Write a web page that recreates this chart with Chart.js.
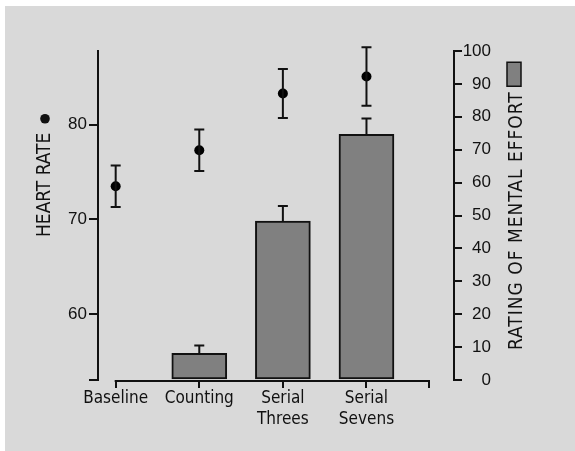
<!DOCTYPE html>
<html>
<head>
<meta charset="utf-8">
<script src="https://cdn.jsdelivr.net/npm/chart.js@4.4.1/dist/chart.umd.min.js"></script>
<style>
  html, body { margin: 0; padding: 0; background: #fff; }
  canvas { display: block; }
</style>
</head>
<body>
<canvas id="chart" width="575" height="451"></canvas>
<script>
// data
const categories = [['Baseline'], ['Counting'], ['Serial', 'Threes'], ['Serial', 'Sevens']];
const heartRate = [73.5, 77.3, 83.3, 85.1];
const heartRateErr = [2.2, 2.2, 2.6, 3.1];
const effort = [null, 8.1, 48.3, 74.7];
const effortErr = [null, 2.4, 4.6, 4.8];
const heartTicks = [60, 70, 80];
const effortTicks = [0, 10, 20, 30, 40, 50, 60, 70, 80, 90, 100];

// axis extents
const hrMin = 53, hrMax = 87.8;
const xMin = -0.2115, xMax = 4.047, xAxisEnd = 3.745;

const ink = '#111';
const grey = '#808080';
const narrow = '"Liberation Sans Narrow", "DejaVu Sans Condensed", "Liberation Sans", sans-serif';
const regular = '"Liberation Sans", Arial, sans-serif';

const decor = {
  id: 'decor',
  beforeDraw(chart) {
    const ctx = chart.ctx;
    ctx.save();
    ctx.fillStyle = '#d9d9d9';
    ctx.fillRect(5, 6, chart.width - 5, chart.height - 6);
    ctx.restore();
  },
  afterDatasetsDraw(chart) {
    const {ctx, scales: {x, yL, yR}} = chart;
    const cap = 5;
    ctx.save();
    ctx.strokeStyle = ink;
    ctx.lineWidth = 2;
    heartRate.forEach((v, i) => {
      const px = x.getPixelForValue(i);
      const top = yL.getPixelForValue(v + heartRateErr[i]);
      const bot = yL.getPixelForValue(v - heartRateErr[i]);
      ctx.beginPath();
      ctx.moveTo(px, top); ctx.lineTo(px, bot);
      ctx.moveTo(px - cap, top); ctx.lineTo(px + cap, top);
      ctx.moveTo(px - cap, bot); ctx.lineTo(px + cap, bot);
      ctx.stroke();
    });
    effort.forEach((v, i) => {
      if (v == null) return;
      const px = x.getPixelForValue(i);
      const base = yR.getPixelForValue(v);
      const top = yR.getPixelForValue(v + effortErr[i]);
      ctx.beginPath();
      ctx.moveTo(px, base); ctx.lineTo(px, top);
      ctx.moveTo(px - cap, top); ctx.lineTo(px + cap, top);
      ctx.stroke();
    });
    ctx.restore();
  },
  afterDraw(chart) {
    const {ctx, chartArea, scales: {x}} = chart;
    ctx.save();
    // x axis line only spans the categories
    ctx.strokeStyle = ink;
    ctx.lineWidth = 2;
    ctx.beginPath();
    ctx.moveTo(x.getPixelForValue(0) - 1, chartArea.bottom + 1);
    ctx.lineTo(x.getPixelForValue(xAxisEnd) + 1, chartArea.bottom + 1);
    ctx.stroke();

    ctx.fillStyle = ink;
    ctx.font = '19px ' + narrow;
    ctx.textAlign = 'left';
    ctx.textBaseline = 'alphabetic';

    // left title + dot
    const lx = chartArea.left - 48, ly = chartArea.bottom - 143;
    ctx.save();
    ctx.translate(lx, ly);
    ctx.rotate(-Math.PI / 2);
    ctx.fillText('HEART RATE', 0, 0);
    const lw = ctx.measureText('HEART RATE').width;
    ctx.restore();
    ctx.beginPath();
    ctx.arc(lx - 5, ly - lw - 14, 4.8, 0, Math.PI * 2);
    ctx.fill();

    // right title + bar key
    const rx = chartArea.right + 67.5, ry = chartArea.bottom - 30;
    ctx.save();
    ctx.letterSpacing = '1px';
    ctx.translate(rx, ry);
    ctx.rotate(-Math.PI / 2);
    ctx.fillText('RATING OF MENTAL EFFORT', 0, 0);
    const rw = ctx.measureText('RATING OF MENTAL EFFORT').width;
    ctx.restore();
    ctx.fillStyle = grey;
    ctx.strokeStyle = ink;
    ctx.lineWidth = 1.5;
    ctx.fillRect(rx - 14.5, ry - rw - 29, 14, 24);
    ctx.strokeRect(rx - 14.5, ry - rw - 29, 14, 24);
    ctx.restore();
  }
};

new Chart(document.getElementById('chart'), {
  type: 'bar',
  data: {
    datasets: [{
      type: 'line',
      label: 'Heart rate',
      data: heartRate.map((v, i) => ({x: i, y: v})),
      yAxisID: 'yL',
      showLine: false,
      pointRadius: 5,
      pointBackgroundColor: '#000',
      pointBorderWidth: 0
    }, {
      label: 'Rating of mental effort',
      data: effort.map((v, i) => ({x: i, y: v})),
      yAxisID: 'yR',
      backgroundColor: grey,
      borderColor: ink,
      borderWidth: 2,
      borderSkipped: false,
      barThickness: 55
    }]
  },
  options: {
    responsive: false,
    animation: false,
    layout: { padding: { left: 0, right: 84, top: 51, bottom: 0 } },
    plugins: { legend: { display: false }, tooltip: { enabled: false } },
    scales: {
      x: {
        type: 'linear',
        offset: false,
        min: xMin,
        max: xMax,
        afterFit: s => { s.height = 71; },
        afterBuildTicks: s => { s.ticks = [0, 1, 2, 3, xAxisEnd].map(v => ({value: v})); },
        grid: { offset: false, drawOnChartArea: false, color: ink, lineWidth: 2, tickLength: 8 },
        border: { display: false },
        ticks: {
          autoSkip: false,
          maxRotation: 0,
          padding: 0,
          color: ink,
          font: { family: narrow, size: 17, lineHeight: 1.22 },
          callback: v => Number.isInteger(v) && categories[v] ? categories[v] : ''
        }
      },
      yL: {
        position: 'left',
        min: hrMin,
        max: hrMax,
        afterFit: s => { s.width = 98; },
        afterBuildTicks: s => { s.ticks = [hrMin, ...heartTicks].map(v => ({value: v})); },
        grid: { drawOnChartArea: false, color: ink, lineWidth: 2, tickLength: 9 },
        border: { color: ink, width: 2 },
        ticks: {
          padding: 2,
          color: ink,
          font: { family: regular, size: 17 },
          callback: v => heartTicks.includes(v) ? v : ''
        }
      },
      yR: {
        position: 'right',
        min: 0,
        max: 100,
        afterFit: s => { s.width = 37; },
        afterBuildTicks: s => { s.ticks = effortTicks.map(v => ({value: v})); },
        grid: { drawOnChartArea: false, color: ink, lineWidth: 2, tickLength: 8 },
        border: { color: ink, width: 2 },
        ticks: {
          crossAlign: 'far',
          color: ink,
          font: { family: regular, size: 17 }
        }
      }
    }
  },
  plugins: [decor]
});
</script>
</body>
</html>
